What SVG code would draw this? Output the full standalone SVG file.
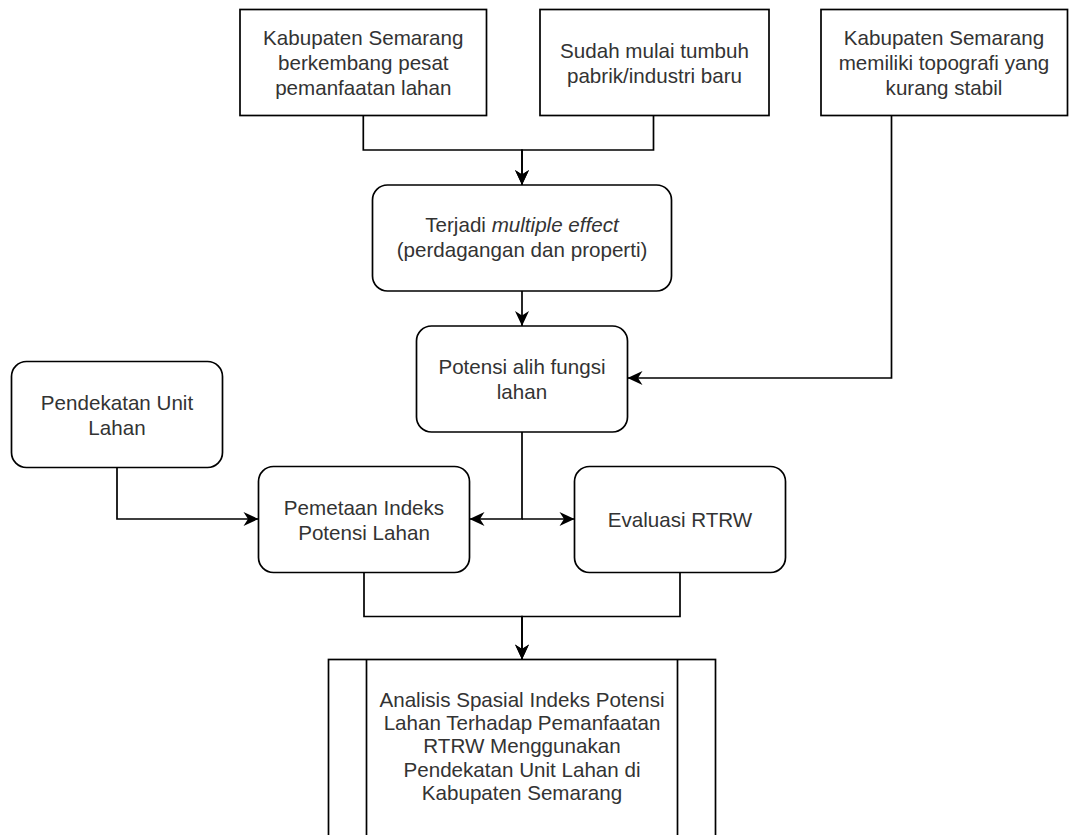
<svg xmlns="http://www.w3.org/2000/svg" width="1071" height="835" viewBox="0 0 1071 835">
  <style>
    .box { fill: #ffffff; stroke: #000000; stroke-width: 1.7; }
    .edge { fill: none; stroke: #000000; stroke-width: 1.7; }
    .lbl { font-family: "Liberation Sans", Arial, Helvetica, sans-serif; font-size: 20.6px; fill: #333333; text-anchor: middle; }
  </style>
  <defs>
    <marker id="arr" markerUnits="userSpaceOnUse" viewBox="-16 -8 17 16" markerWidth="17" markerHeight="16" refX="0" refY="0" orient="auto">
      <path d="M0,0 L-15,-7 L-10.5,0 L-15,7 Z" fill="#000000"/>
    </marker>
  </defs>
  <rect width="1071" height="835" fill="#ffffff"/>

  <g id="connectors">
    <path class="edge" d="M363.3,115.5 V150 H522 V185" marker-end="url(#arr)"/>
    <path class="edge" d="M653.5,115.5 V150 H522 V185" marker-end="url(#arr)"/>
    <path class="edge" d="M522,291 V326" marker-end="url(#arr)"/>
    <path class="edge" d="M891.5,115.5 V378 H627.5" marker-end="url(#arr)"/>
    <path class="edge" d="M522,432 V519 H469.5" marker-end="url(#arr)"/>
    <path class="edge" d="M522,519 H574.5" marker-end="url(#arr)"/>
    <path class="edge" d="M117,467.5 V519 H258.5" marker-end="url(#arr)"/>
    <path class="edge" d="M364,572.5 V616.5 H522 V659.5" marker-end="url(#arr)"/>
    <path class="edge" d="M680,572.5 V616.5 H522 V659.5" marker-end="url(#arr)"/>
  </g>

  <g id="node-kabupaten-berkembang">
    <rect class="box" x="240" y="9.5" width="246.5" height="106"/>
    <text class="lbl" x="363.3" y="45">Kabupaten Semarang</text>
    <text class="lbl" x="363.3" y="70">berkembang pesat</text>
    <text class="lbl" x="363.3" y="95">pemanfaatan lahan</text>
  </g>

  <g id="node-pabrik">
    <rect class="box" x="540" y="9.5" width="229" height="106"/>
    <text class="lbl" x="654.5" y="57.5">Sudah mulai tumbuh</text>
    <text class="lbl" x="654.5" y="82.5">pabrik/industri baru</text>
  </g>

  <g id="node-topografi">
    <rect class="box" x="821" y="9.5" width="246.5" height="106"/>
    <text class="lbl" x="944" y="45">Kabupaten Semarang</text>
    <text class="lbl" x="944" y="70">memiliki topografi yang</text>
    <text class="lbl" x="944" y="95">kurang stabil</text>
  </g>

  <g id="node-multiple-effect">
    <rect class="box" x="372.5" y="185" width="299" height="106" rx="15" ry="15"/>
    <text class="lbl" x="522" y="232">Terjadi <tspan font-style="italic">multiple effect</tspan></text>
    <text class="lbl" x="522" y="257">(perdagangan dan properti)</text>
  </g>

  <g id="node-potensi-alih-fungsi">
    <rect class="box" x="416.5" y="326" width="211" height="106" rx="15" ry="15"/>
    <text class="lbl" x="522" y="373.5">Potensi alih fungsi</text>
    <text class="lbl" x="522" y="398.5">lahan</text>
  </g>

  <g id="node-pendekatan-unit-lahan">
    <rect class="box" x="11.5" y="361.5" width="211" height="106" rx="15" ry="15"/>
    <text class="lbl" x="117" y="409.5">Pendekatan Unit</text>
    <text class="lbl" x="117" y="434.5">Lahan</text>
  </g>

  <g id="node-pemetaan">
    <rect class="box" x="258.5" y="466.5" width="211" height="106" rx="15" ry="15"/>
    <text class="lbl" x="364" y="514.5">Pemetaan Indeks</text>
    <text class="lbl" x="364" y="539.5">Potensi Lahan</text>
  </g>

  <g id="node-evaluasi">
    <rect class="box" x="574.5" y="466.5" width="211" height="106" rx="15" ry="15"/>
    <text class="lbl" x="680" y="527">Evaluasi RTRW</text>
  </g>

  <g id="node-analisis">
    <rect class="box" x="328.5" y="659.5" width="387" height="200"/>
    <line class="edge" x1="366.5" y1="659.5" x2="366.5" y2="859.5"/>
    <line class="edge" x1="677.5" y1="659.5" x2="677.5" y2="859.5"/>
    <text class="lbl" x="522" y="706.7">Analisis Spasial Indeks Potensi</text>
    <text class="lbl" x="522" y="730">Lahan Terhadap Pemanfaatan</text>
    <text class="lbl" x="522" y="753.3">RTRW Menggunakan</text>
    <text class="lbl" x="522" y="776.7">Pendekatan Unit Lahan di</text>
    <text class="lbl" x="522" y="800">Kabupaten Semarang</text>
  </g>
</svg>
